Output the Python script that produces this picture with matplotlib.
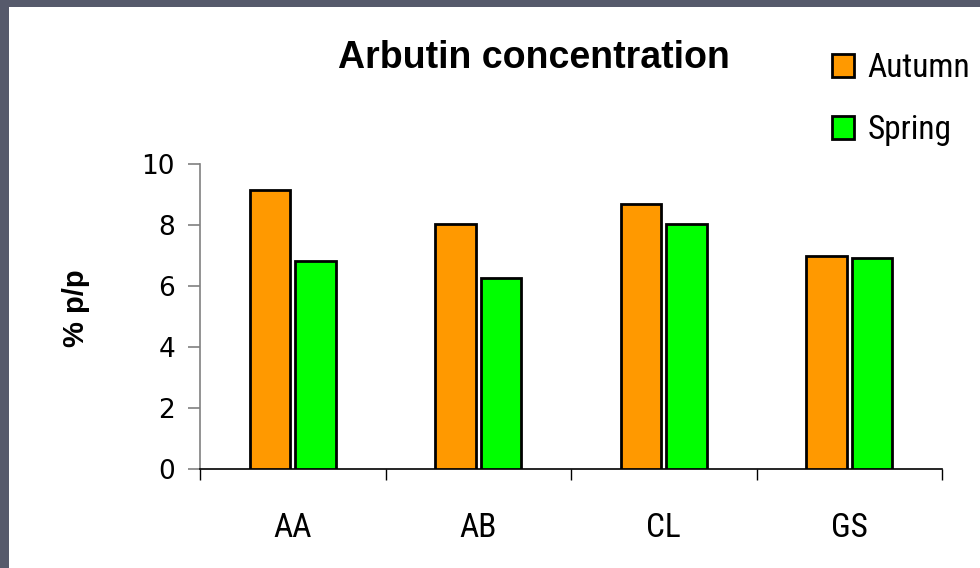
import matplotlib
matplotlib.use("Agg")
import matplotlib.pyplot as plt
from matplotlib.patches import Rectangle
import numpy as np

# Data
sites = ["AA", "AB", "CL", "GS"]
autumn = [9.15, 8.03, 8.68, 7.0]
spring = [6.82, 6.26, 8.03, 6.92]
series_names = ["Autumn", "Spring"]
yticks = [0, 2, 4, 6, 8, 10]

NARROW = ["Liberation Sans Narrow", "Roboto Condensed", "DejaVu Sans"]
ARIAL = ["Liberation Sans", "DejaVu Sans"]

fig = plt.figure(figsize=(9.8, 5.68), dpi=100, facecolor="#565a6b")
# white slide area
fig.patches.append(Rectangle((9 / 980, 0), 1 - 9 / 980, (568 - 7) / 568,
                             transform=fig.transFigure, facecolor="white",
                             edgecolor="none", zorder=-5))

ax = fig.add_axes([200 / 980, 99 / 568, 742 / 980, 305 / 568])
ax.set_facecolor("none")

x = np.arange(len(sites))
w = 0.218
off = 0.123
b1 = ax.bar(x - off, autumn, w, color="#ff9900", edgecolor="black", linewidth=2.0,
            label=series_names[0], zorder=3)
b2 = ax.bar(x + off, spring, w, color="#00ff00", edgecolor="black", linewidth=2.0,
            label=series_names[1], zorder=3)

ax.set_xlim(-0.5, len(sites) - 0.5)
ax.set_ylim(0, 10)

for s in ("top", "right"):
    ax.spines[s].set_visible(False)
ax.spines["left"].set_color("#808080")
ax.spines["left"].set_linewidth(1.2)
ax.spines["bottom"].set_color("black")
ax.spines["bottom"].set_linewidth(1.2)

ax.set_yticks(yticks)
ax.set_yticklabels([str(v) for v in yticks], family=["DejaVu Sans"], fontsize=19)
ax.tick_params(axis="y", direction="out", length=9, width=1.2, color="#808080", pad=9)

ax.set_xticks(np.arange(-0.5, len(sites)), minor=False)
ax.set_xticklabels([])
ax.tick_params(axis="x", which="major", direction="out", length=8, width=1.0, color="black")
ax.set_xticks(x, minor=True)
ax.set_xticklabels(sites, minor=True, family=NARROW, fontstretch="condensed", fontsize=24)
ax.tick_params(axis="x", which="minor", length=0, pad=31)

ax.set_ylabel("% p/p", family=ARIAL, fontsize=21, fontweight="bold")
ax.yaxis.label.set_verticalalignment("center")
ax.yaxis.set_label_coords((75.5 - 200) / 742, (469 - 308.5) / 305)

fig.text(534 / 980, (568 - 68) / 568, "Arbutin concentration", family=ARIAL,
         fontsize=27, fontweight="bold", ha="center", va="baseline")

leg = fig.legend(handles=[b1, b2], labels=series_names, loc="upper left",
                 bbox_to_anchor=(832 / 980, 1 - 52 / 568), frameon=False,
                 prop={"family": NARROW, "size": 24, "stretch": "condensed"},
                 handlelength=0.66, handleheight=0.66, handletextpad=0.4,
                 labelspacing=0.9, borderpad=0, borderaxespad=0)

fig.savefig("out.png", dpi=100, facecolor=fig.get_facecolor())
